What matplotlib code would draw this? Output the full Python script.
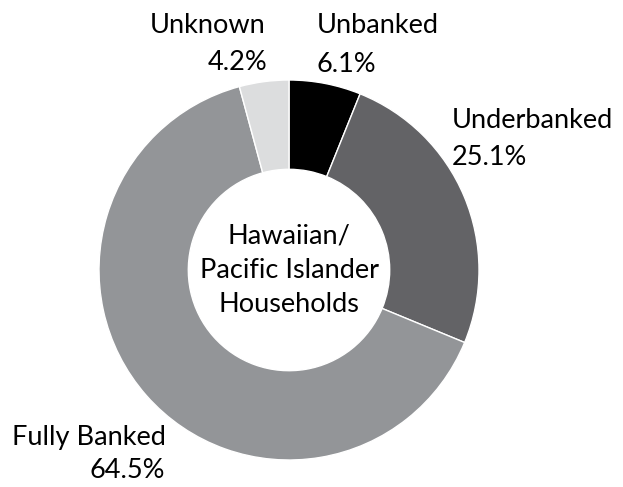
import matplotlib.pyplot as plt

# Household banking status shares (percent)
categories = ['Unbanked', 'Underbanked', 'Fully Banked', 'Unknown']
shares = [6.1, 25.1, 64.5, 4.2]
colors = ['#000000', '#636366', '#939598', '#dcddde']

plt.rcParams['font.family'] = ['Lato', 'DejaVu Sans']

W, H = 623, 487
fig = plt.figure(figsize=(W / 100, H / 100), dpi=100)
ax = fig.add_axes([0, 0, 1, 1])

cx, cy, r = 289, H - 270, 190
ax.pie(shares, colors=colors, startangle=90, counterclock=False,
       center=(cx, cy), radius=r, frame=True,
       wedgeprops=dict(width=r * 0.47, edgecolor='white', linewidth=1))
ax.set_xlim(0, W)
ax.set_ylim(0, H)
ax.set_aspect('equal')
ax.axis('off')

fs = 19.5
# label text: (x, y of first baseline, alignment)
label_pos = {
    'Unbanked': (317, 33, 'left'),
    'Underbanked': (452, 128, 'left'),
    'Fully Banked': (12, 445, 'left'),
    'Unknown': (150, 33, 'left'),
}
for cat, val in zip(categories, shares):
    x, y, ha = label_pos[cat]
    ax.text(x, H - y, cat, fontsize=fs, ha=ha, va='baseline')

# percent values under each label
pct_pos = {
    'Unbanked': (317, 72, 'left'),
    'Underbanked': (452, 165, 'left'),
    'Fully Banked': (165, 478, 'right'),
    'Unknown': (267, 70, 'right'),
}
for cat, val in zip(categories, shares):
    x, y, ha = pct_pos[cat]
    ax.text(x, H - y, f'{val:.1f}%', fontsize=fs, ha=ha, va='baseline')

ax.text(cx, cy, 'Hawaiian/\nPacific Islander\nHouseholds', fontsize=fs,
        ha='center', va='center', linespacing=1.45)

fig.savefig('out.png', dpi=100)
